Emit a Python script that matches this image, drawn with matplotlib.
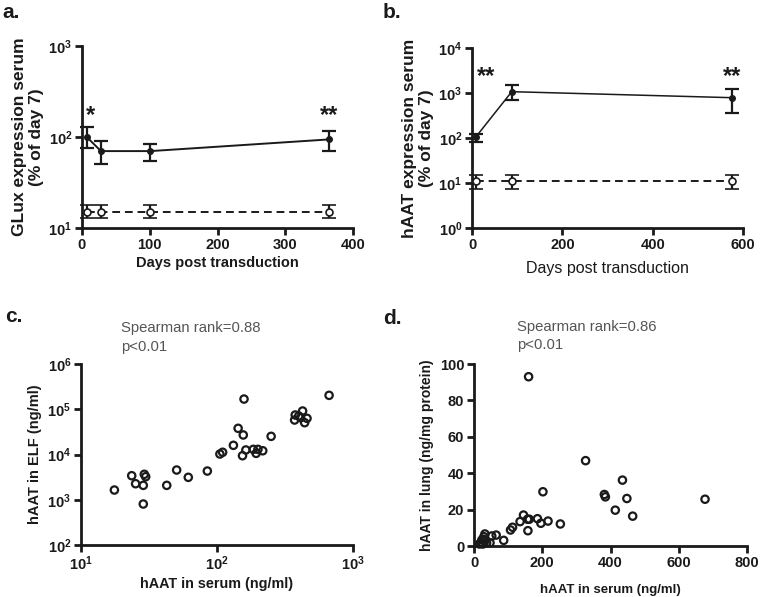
import matplotlib
matplotlib.use("Agg")
import matplotlib.pyplot as plt
from matplotlib.ticker import FixedLocator, NullLocator, FuncFormatter

plt.rcParams['font.family'] = ['Liberation Sans', 'DejaVu Sans']
plt.rcParams['font.weight'] = 'bold'
plt.rcParams['mathtext.default'] = 'regular'

INK = '#1a1a1a'

# ---- Panel a: GLux ----
a_days = [7, 28, 101, 364]
a_treated = [100, 70, 70, 94]
a_treated_lo = [76, 50.5, 54, 71]
a_treated_hi = [128, 90, 84, 117]
a_ctrl = [15.1, 15.1, 15.1, 15.1]
a_ctrl_lo = [12.8, 12.8, 12.8, 12.8]
a_ctrl_hi = [17.9, 17.9, 17.9, 17.9]

# ---- Panel b: hAAT ----
b_days = [8, 88, 575]
b_treated = [104, 1070, 787]
b_treated_lo = [83, 700, 352]
b_treated_hi = [120, 1530, 1230]
b_ctrl = [11, 11, 11]
b_ctrl_lo = [7.4, 7.4, 7.4]
b_ctrl_hi = [14.8, 14.8, 14.8]

# ---- Panel c: serum vs ELF ----
c_serum = [17.6, 23.6, 25.2, 28.7, 28.7, 29.2, 29.9, 42.7, 50.5, 61.5, 84.9,
           105, 110, 132, 143, 154, 156, 158, 163, 185, 194, 200, 217, 250,
           372, 376, 399, 412, 426, 441, 459, 667]
c_elf = [1640, 3400, 2260, 2080, 805, 3650, 3230, 2080, 4540, 3130, 4310,
         10250, 11200, 15950, 37900, 9400, 27000, 168000, 12600, 13000, 10600,
         13000, 12100, 25200, 57800, 74600, 71000, 65000, 91400, 50500, 63000,
         203000]

# ---- Panel d: serum vs lung ----
d_serum = [16, 20, 23, 26, 28, 29, 32, 32, 37, 47, 52, 65, 87, 107, 113, 135,
           145, 157, 158, 160, 162, 186, 196, 202, 217, 253, 327, 382, 385,
           414, 435, 448, 465, 677]
d_lung = [1.1, 1.8, 3.3, 1.1, 3.7, 5.1, 6.6, 2.9, 1.8, 1.8, 5.5, 6.0, 3.1,
          8.8, 10.3, 13.4, 17.0, 14.7, 8.4, 93.0, 14.7, 15.0, 12.5, 29.8,
          13.7, 12.1, 46.9, 28.3, 27.0, 19.7, 36.2, 26.1, 16.4, 25.7]

a_stars = ['*', '**']
b_stars = ['**', '**']

fig = plt.figure(figsize=(7.6, 5.97), dpi=100)
W, H = 760, 597

def add_ax(l, r, t, b):
    return fig.add_axes([l / W, 1 - b / H, (r - l) / W, (b - t) / H])

def style(ax):
    for s in ['top', 'right']:
        ax.spines[s].set_visible(False)
    for s in ['left', 'bottom']:
        ax.spines[s].set_linewidth(2.0)
        ax.spines[s].set_color(INK)
    ax.tick_params(axis='both', which='major', direction='out', length=5,
                   width=2.0, color=INK, labelsize=10.5, labelcolor=INK, pad=2)
    ax.tick_params(axis='both', which='minor', length=0)
    for lab in ax.get_xticklabels() + ax.get_yticklabels():
        lab.set_fontweight('bold')

def logfmt(v, pos):
    import math
    e = int(round(math.log10(v)))
    return r'$10^{%d}$' % e

lw = 1.4
cap = 5

def err(vals, lo, hi):
    return [[v - l for v, l in zip(vals, lo)], [h - v for v, h in zip(vals, hi)]]

# ----- a -----
ax = add_ax(82, 353, 46, 228)
ax.set_yscale('log')
ax.errorbar(a_days, a_treated, yerr=err(a_treated, a_treated_lo, a_treated_hi),
            color=INK, lw=lw, marker='o', ms=4, mfc=INK, mec=INK,
            capsize=cap, capthick=1.6, elinewidth=1.6, clip_on=False, zorder=3)
ax.errorbar(a_days, a_ctrl, yerr=err(a_ctrl, a_ctrl_lo, a_ctrl_hi),
            color=INK, lw=lw, ls=(0, (4, 2.5)), marker='o', ms=5, mfc='white',
            mec=INK, mew=1.2, capsize=cap, capthick=1.6, elinewidth=1.6,
            clip_on=False, zorder=3)
ax.set_xlim(0, 400)
ax.set_ylim(10, 1000)
ax.xaxis.set_major_locator(FixedLocator([0, 100, 200, 300, 400]))
ax.yaxis.set_major_locator(FixedLocator([10, 100, 1000]))
ax.yaxis.set_minor_locator(NullLocator())
ax.yaxis.set_major_formatter(FuncFormatter(logfmt))
ax.set_xlabel('Days post transduction', fontsize=10.5, fontweight='bold', color=INK, labelpad=3)
ax.set_ylabel('GLux expression serum\n(% of day 7)', fontsize=12.5, fontweight='bold',
              color=INK, labelpad=3, linespacing=1.2)
style(ax)
ax.text(a_days[0] + 6, 172, a_stars[0], fontsize=17, fontweight='bold', ha='center', va='center', color=INK)
ax.text(a_days[-1], 172, a_stars[1], fontsize=17, fontweight='bold', ha='center', va='center', color=INK)
fig.text(2 / W, 1 - 13 / H, 'a.', fontsize=15, fontweight='bold', va='center', color=INK)

# ----- b -----
ax = add_ax(472, 743, 48, 228)
ax.set_yscale('log')
ax.errorbar(b_days, b_treated, yerr=err(b_treated, b_treated_lo, b_treated_hi),
            color=INK, lw=1.1, marker='o', ms=4, mfc=INK, mec=INK,
            capsize=cap, capthick=1.6, elinewidth=1.6, clip_on=False, zorder=3)
ax.errorbar(b_days, b_ctrl, yerr=err(b_ctrl, b_ctrl_lo, b_ctrl_hi),
            color=INK, lw=lw, ls=(0, (4, 2.5)), marker='o', ms=5, mfc='white',
            mec=INK, mew=1.2, capsize=cap, capthick=1.6, elinewidth=1.6,
            clip_on=False, zorder=3)
ax.set_xlim(0, 600)
ax.set_ylim(1, 10000)
ax.xaxis.set_major_locator(FixedLocator([0, 200, 400, 600]))
ax.yaxis.set_major_locator(FixedLocator([1, 10, 100, 1000, 10000]))
ax.yaxis.set_minor_locator(NullLocator())
ax.yaxis.set_major_formatter(FuncFormatter(logfmt))
ax.set_xlabel('Days post transduction', fontsize=11.5, fontweight='normal', color=INK, labelpad=7)
ax.set_ylabel('hAAT expression serum\n(% of day 7)', fontsize=12.5, fontweight='bold',
              color=INK, labelpad=3, linespacing=1.2)
style(ax)
ax.text(b_days[0] + 24, 2300, b_stars[0], fontsize=17, fontweight='bold', ha='center', va='center', color=INK)
ax.text(b_days[-1], 2300, b_stars[1], fontsize=17, fontweight='bold', ha='center', va='center', color=INK)
fig.text(383 / W, 1 - 13 / H, 'b.', fontsize=15, fontweight='bold', va='center', color=INK)

# ----- c -----
ax = add_ax(81, 353, 364, 545)
ax.set_xscale('log')
ax.set_yscale('log')
ax.scatter(c_serum, c_elf, s=28, facecolors='none', edgecolors=INK, linewidths=1.6, zorder=3)
ax.set_xlim(10, 1000)
ax.set_ylim(100, 1e6)
ax.xaxis.set_major_locator(FixedLocator([10, 100, 1000]))
ax.yaxis.set_major_locator(FixedLocator([100, 1000, 1e4, 1e5, 1e6]))
ax.xaxis.set_minor_locator(NullLocator())
ax.yaxis.set_minor_locator(NullLocator())
ax.xaxis.set_major_formatter(FuncFormatter(logfmt))
ax.yaxis.set_major_formatter(FuncFormatter(logfmt))
ax.set_xlabel('hAAT in serum (ng/ml)', fontsize=10.4, fontweight='bold', color=INK, labelpad=3)
ax.set_ylabel('hAAT in ELF (ng/ml)', fontsize=10.5, fontweight='bold', color=INK, labelpad=4)
style(ax)
fig.text(121 / W, 1 - 328 / H, 'Spearman rank=0.88', fontsize=10.7, fontweight='normal',
         color='#555555', va='center')
fig.text(121 / W, 1 - 347 / H, 'p<0.01', fontsize=10.7, fontweight='normal',
         color='#555555', va='center')
fig.text(5 / W, 1 - 316 / H, 'c.', fontsize=15, fontweight='bold', va='center', color=INK)

# ----- d -----
ax = add_ax(474, 747, 364, 546)
ax.scatter(d_serum, d_lung, s=28, facecolors='none', edgecolors=INK, linewidths=1.6,
           zorder=3, clip_on=False)
ax.set_xlim(0, 800)
ax.set_ylim(0, 100)
ax.xaxis.set_major_locator(FixedLocator([0, 200, 400, 600, 800]))
ax.yaxis.set_major_locator(FixedLocator([0, 20, 40, 60, 80, 100]))
ax.set_xlabel('hAAT in serum (ng/ml)', fontsize=9.5, fontweight='bold', color=INK, labelpad=10)
ax.set_ylabel('hAAT in lung (ng/mg protein)', fontsize=10, fontweight='bold', color=INK, labelpad=4)
style(ax)
fig.text(517 / W, 1 - 327 / H, 'Spearman rank=0.86', fontsize=10.7, fontweight='normal',
         color='#555555', va='center')
fig.text(517 / W, 1 - 345 / H, 'p<0.01', fontsize=10.7, fontweight='normal',
         color='#555555', va='center')
fig.text(383 / W, 1 - 318 / H, 'd.', fontsize=15, fontweight='bold', va='center', color=INK)

fig.savefig('out.png', dpi=100)
